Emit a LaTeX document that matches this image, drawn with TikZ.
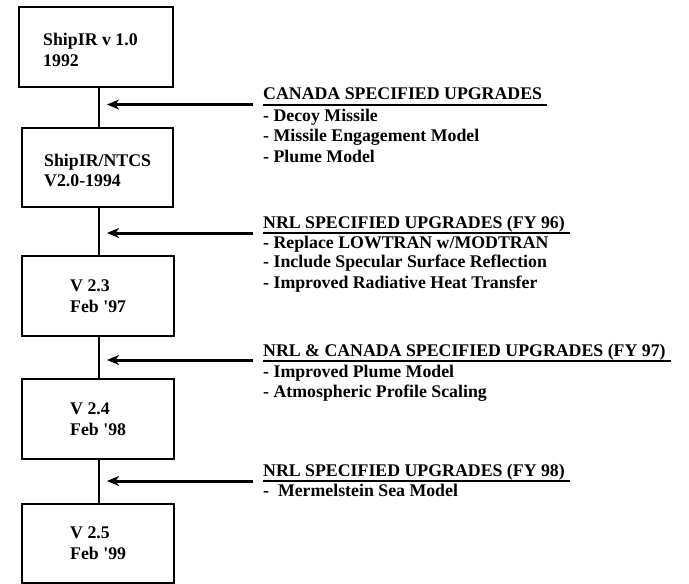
\documentclass[tikz,border=0pt]{standalone}
\usepackage{fontspec}
\setmainfont{Liberation Serif}
\usetikzlibrary{arrows.meta}
\begin{document}
\begin{tikzpicture}[x=1pt,y=-1pt,
  box/.style={draw, line width=2.2pt, inner sep=0pt, minimum width=#1},
  box/.default=152pt,
  txt/.style={inner sep=0pt, anchor=base west, font=\fontsize{17.8}{21}\selectfont\bfseries},
  spineline/.style={line width=2.8pt},
  arr/.style={line width=3pt, -{Stealth[length=12pt,width=10pt,inset=3.5pt]}, shorten >=8pt},
  ul/.style={line width=2pt}]
\useasboundingbox (0,0) rectangle (689,584);
\coordinate (spine) at (99,0);
% boxes
\node[box=154pt, minimum height=80pt] (b1) at (96,47) {};
\node[box=151pt, minimum height=79pt] (b2) at (97.5,167.5) {};
\node[box, minimum height=80pt] (b3) at (98,296) {};
\node[box, minimum height=80pt] (b4) at (98,419) {};
\node[box, minimum height=79pt] (b5) at (98,543.5) {};
% box texts
\node[txt] (t1a) at (43,45) {ShipIR v 1.0};
\node[txt] (t1b) at (43,66) {1992};
\node[txt] (t2a) at (44,166) {ShipIR/NTCS};
\node[txt] (t2b) at (44,186) {V2.0-1994};
\node[txt] (t3a) at (70,291) {V 2.3};
\node[txt] (t3b) at (70,312) {Feb \textquotesingle 97};
\node[txt] (t4a) at (70,414) {V 2.4};
\node[txt] (t4b) at (70,435) {Feb \textquotesingle 98};
\node[txt] (t5a) at (70,538) {V 2.5};
\node[txt] (t5b) at (70,559) {Feb \textquotesingle 99};
% spine
\draw[spineline] (b1.south -| spine) -- (b2.north -| spine);
\draw[spineline] (b2.south -| spine) -- (b3.north -| spine);
\draw[spineline] (b3.south -| spine) -- (b4.north -| spine);
\draw[spineline] (b4.south -| spine) -- (b5.north -| spine);
% upgrade groups
\node[txt] (h1) at (263,99) {CANADA SPECIFIED UPGRADES};
\node[txt] (h1a) at (263,121) {- Decoy Missile};
\node[txt] (h1b) at (263,141) {- Missile Engagement Model};
\node[txt] (h1c) at (263,162) {- Plume Model};
\node[txt] (h2) at (263,228) {NRL SPECIFIED UPGRADES (FY 96)};
\node[txt] (h2a) at (263,248) {- Replace LOWTRAN w/MODTRAN};
\node[txt] (h2b) at (263,267) {- Include Specular Surface Reflection};
\node[txt] (h2c) at (263,288) {- Improved Radiative Heat Transfer};
\node[txt] (h3) at (263,356) {NRL \& CANADA SPECIFIED UPGRADES (FY 97)};
\node[txt] (h3a) at (263,377) {- Improved Plume Model};
\node[txt] (h3b) at (263,397) {- Atmospheric Profile Scaling};
\node[txt] (h4) at (263,476.5) {NRL SPECIFIED UPGRADES (FY 98)};
\node[txt] (h4a) at (263,496) {-\ \ Mermelstein Sea Model};
% underlines
\draw[ul] ([yshift=-5.5pt]h1.base west) -- ([xshift=5pt,yshift=-5.5pt]h1.base east);
\draw[ul] ([yshift=-4.5pt]h2.base west) -- ([xshift=5pt,yshift=-4.5pt]h2.base east);
\draw[ul] ([yshift=-4.5pt]h3.base west) -- ([xshift=5pt,yshift=-4.5pt]h3.base east);
\draw[ul] ([yshift=-4.5pt]h4.base west) -- ([xshift=5pt,yshift=-4.5pt]h4.base east);
% arrows
\coordinate (a1) at (253,104.5);
\coordinate (a2) at (253,233);
\coordinate (a3) at (253,360);
\coordinate (a4) at (253,481);
\draw[arr] (a1) -- (a1 -| spine);
\draw[arr] (a2) -- (a2 -| spine);
\draw[arr] (a3) -- (a3 -| spine);
\draw[arr] (a4) -- (a4 -| spine);
\end{tikzpicture}
\end{document}
